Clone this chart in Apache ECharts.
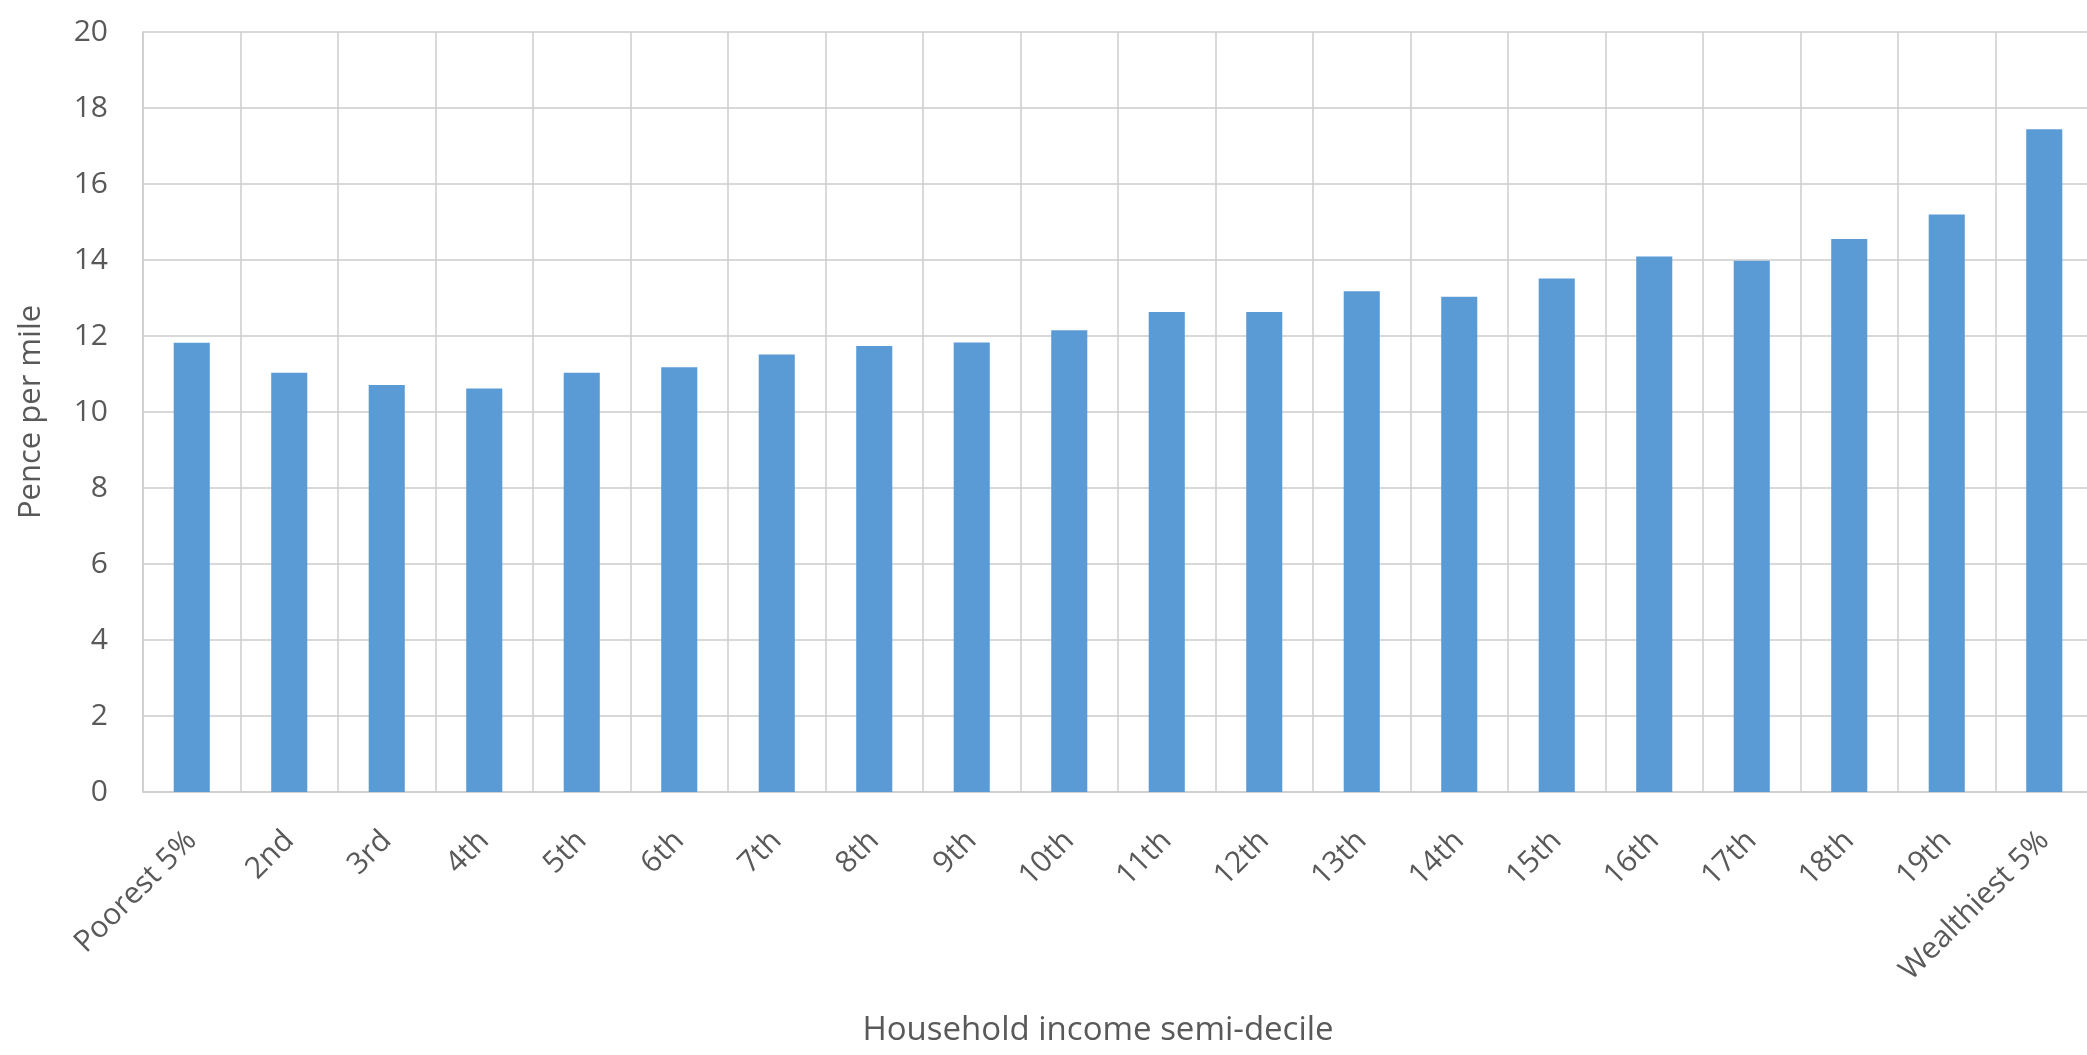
<!DOCTYPE html>
<html>
<head>
<meta charset="utf-8">
<title>Pence per mile by household income semi-decile</title>
<script src="https://cdn.jsdelivr.net/npm/echarts@6/dist/echarts.min.js"></script>
<style>
  html, body { margin: 0; padding: 0; background: #ffffff; }
  #chart { width: 2087px; height: 1055px; }
</style>
</head>
<body>
<div id="chart"></div>
<script>
// Income groups, poorest to wealthiest
const semiDeciles = [
  'Poorest 5%', '2nd', '3rd', '4th', '5th', '6th', '7th', '8th', '9th', '10th',
  '11th', '12th', '13th', '14th', '15th', '16th', '17th', '18th', '19th', 'Wealthiest 5%'
];

// Cost in pence per mile for each group
const pencePerMile = [
  11.82, 11.03, 10.71, 10.62, 11.03, 11.18, 11.51, 11.74, 11.83, 12.15,
  12.63, 12.63, 13.18, 13.03, 13.51, 14.09, 13.98, 14.55, 15.20, 17.44
];

// Value axis range
const yMin = 0;
const yMax = 20;
const yStep = 2;

const labelColor = '#595959';
const gridColor = '#cccccc';
const fontFamily = '"Open Sans", "Noto Sans", sans-serif';

const chart = echarts.init(document.getElementById('chart'), null, { renderer: 'canvas' });

chart.setOption({
  animation: false,
  backgroundColor: '#ffffff',
  grid: {
    left: 143, top: 32, width: 1950, height: 760,
    containLabel: false,
    outerBoundsMode: 'none'
  },
  xAxis: {
    type: 'category',
    data: semiDeciles,
    boundaryGap: true,
    name: 'Household income semi-decile',
    nameLocation: 'middle',
    nameGap: 222,
    nameTextStyle: {
      color: labelColor, fontFamily: fontFamily, fontSize: 33,
      padding: [0, 40, 0, 0]
    },
    axisLine: { show: true, lineStyle: { color: gridColor, width: 1.5 } },
    axisTick: { show: false },
    axisLabel: {
      interval: 0, rotate: 45, margin: 44,
      color: labelColor, fontFamily: fontFamily, fontSize: 30
    },
    splitLine: { show: true, interval: 0, lineStyle: { color: gridColor, width: 1.5 } }
  },
  yAxis: {
    type: 'value',
    min: yMin, max: yMax, interval: yStep,
    name: 'Pence per mile',
    nameLocation: 'middle',
    nameGap: 96,
    nameTextStyle: { color: labelColor, fontFamily: fontFamily, fontSize: 31 },
    axisLine: { show: true, lineStyle: { color: gridColor, width: 1.5 } },
    axisTick: { show: false },
    axisLabel: { margin: 35, color: labelColor, fontFamily: fontFamily, fontSize: 30 },
    splitLine: { show: true, lineStyle: { color: gridColor, width: 1.5 } }
  },
  series: [{
    type: 'bar',
    data: pencePerMile,
    barWidth: '37%',
    itemStyle: { color: '#5b9bd5' }
  }]
});
</script>
</body>
</html>
